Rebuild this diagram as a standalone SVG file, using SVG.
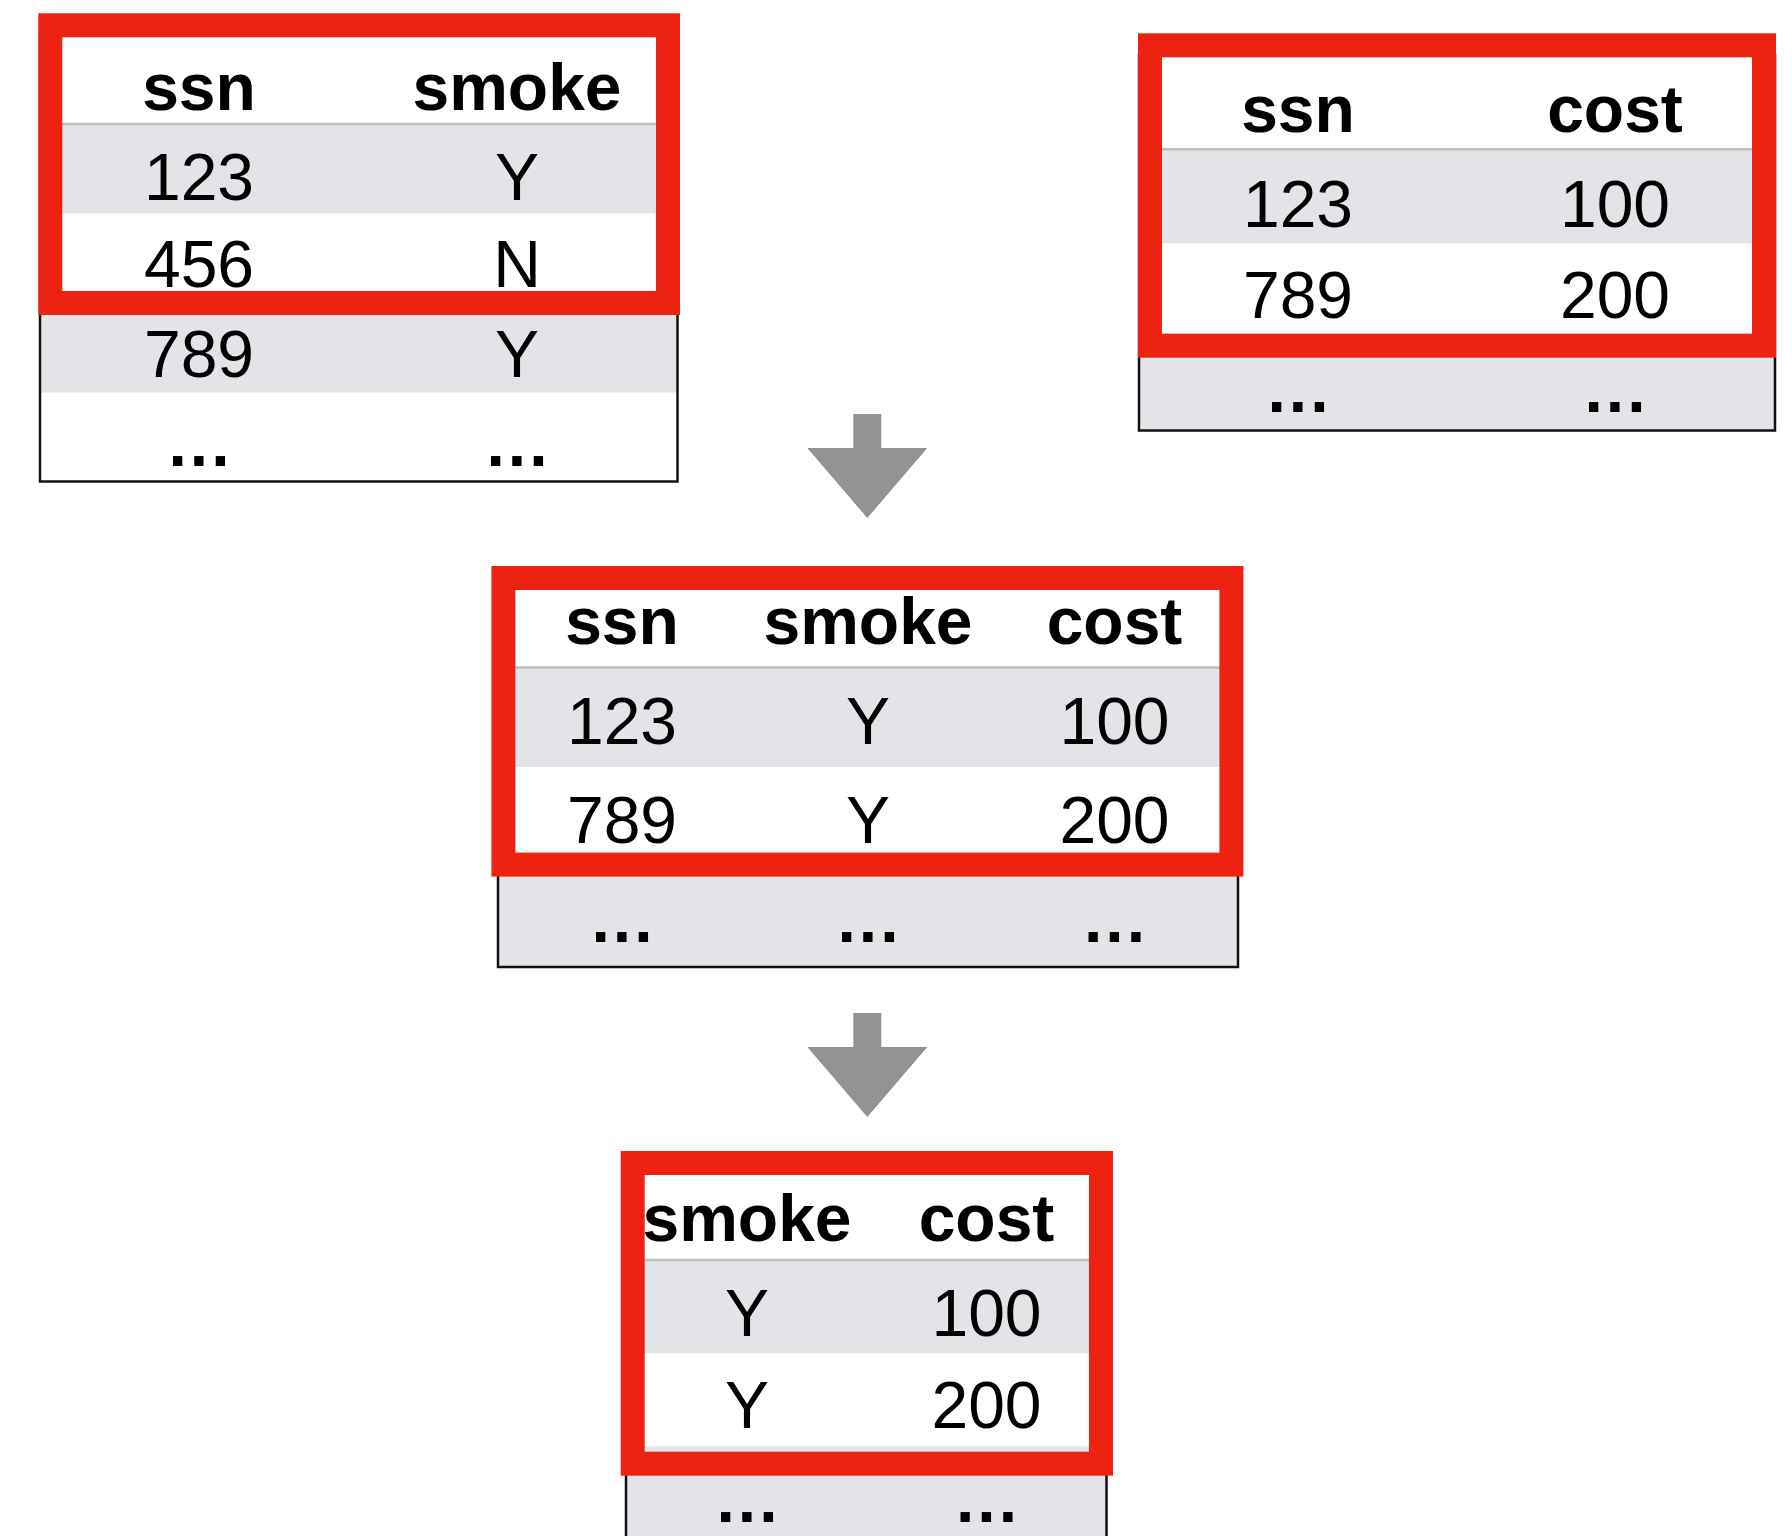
<svg xmlns="http://www.w3.org/2000/svg" width="1792" height="1536" viewBox="0 0 1792 1536">
  <style>
    .bg { fill: #ffffff; }
    .band { fill: #e3e4e8; }
    .edge { fill: none; stroke: #111111; stroke-width: 2.5; }
    .hline { stroke: #bdbdbd; stroke-width: 2.5; }
    .frame { fill: none; stroke: #ee2211; stroke-width: 24; }
    .hdr { font-family: "Liberation Sans", Arial, sans-serif; font-weight: bold; font-size: 66px; text-anchor: middle; fill: #000; }
    .cell { font-family: "Liberation Sans", Arial, sans-serif; font-size: 66px; text-anchor: middle; fill: #000; }
    .dots { font-family: "Liberation Sans", Arial, sans-serif; font-weight: bold; font-size: 66px; letter-spacing: 3px; text-anchor: middle; fill: #000; }
    .arrow { fill: #939393; }
  </style>
  <defs>
    <!-- block arrow pointing down, origin at the shaft's top centre -->
    <path id="down-arrow" d="M -14 0 H 14 V 34 H 60 L 0 104 L -60 34 H -14 Z"/>
  </defs>

  <rect class="bg" x="0" y="0" width="1792" height="1536"/>

  <!-- smoker table: ssn / smoke -->
  <g id="table-smoke">
    <rect class="bg" x="40" y="33" width="637.5" height="448.5"/>
    <rect class="band" x="40" y="124" width="637.5" height="89.5"/>
    <rect class="band" x="40" y="303" width="637.5" height="89.5"/>
    <line class="hline" x1="40" y1="124" x2="677.5" y2="124"/>
    <text class="hdr" x="199" y="110">ssn</text>
    <text class="hdr" x="517" y="110">smoke</text>
    <text class="cell" x="199" y="200">123</text>
    <text class="cell" x="517" y="200">Y</text>
    <text class="cell" x="199" y="287">456</text>
    <text class="cell" x="517" y="287">N</text>
    <text class="cell" x="199" y="377">789</text>
    <text class="cell" x="517" y="377">Y</text>
    <text class="dots" x="200.5" y="466">...</text>
    <text class="dots" x="518.5" y="466">...</text>
    <rect class="edge" x="40" y="33" width="637.5" height="448.5"/>
    <rect class="frame" x="50.3" y="25.3" width="617.7" height="277.7"/>
  </g>

  <!-- cost table: ssn / cost -->
  <g id="table-cost">
    <rect class="bg" x="1139" y="55" width="636" height="375.5"/>
    <rect class="band" x="1139" y="149.3" width="636" height="94"/>
    <rect class="band" x="1139" y="337.3" width="636" height="93.2"/>
    <line class="hline" x1="1139" y1="149.3" x2="1775" y2="149.3"/>
    <text class="hdr" x="1298" y="131.7">ssn</text>
    <text class="hdr" x="1615" y="131.7">cost</text>
    <text class="cell" x="1298" y="226.7">123</text>
    <text class="cell" x="1615" y="226.7">100</text>
    <text class="cell" x="1298" y="317.7">789</text>
    <text class="cell" x="1615" y="317.7">200</text>
    <text class="dots" x="1299.5" y="411.7">...</text>
    <text class="dots" x="1616.5" y="411.7">...</text>
    <rect class="edge" x="1139" y="55" width="636" height="375.5"/>
    <rect class="frame" x="1150" y="45.3" width="614" height="300.4"/>
  </g>

  <!-- joined table: ssn / smoke / cost -->
  <g id="table-join">
    <rect class="bg" x="498" y="578" width="740" height="389"/>
    <rect class="band" x="498" y="667.4" width="740" height="99.6"/>
    <rect class="band" x="498" y="866.8" width="740" height="100.2"/>
    <line class="hline" x1="498" y1="667.4" x2="1238" y2="667.4"/>
    <text class="hdr" x="622" y="644.4">ssn</text>
    <text class="hdr" x="868" y="644.4">smoke</text>
    <text class="hdr" x="1114.5" y="644.4">cost</text>
    <text class="cell" x="622" y="744">123</text>
    <text class="cell" x="868" y="744">Y</text>
    <text class="cell" x="1114.5" y="744">100</text>
    <text class="cell" x="622" y="842.6">789</text>
    <text class="cell" x="868" y="842.6">Y</text>
    <text class="cell" x="1114.5" y="842.6">200</text>
    <text class="dots" x="623.5" y="941.5">...</text>
    <text class="dots" x="869.5" y="941.5">...</text>
    <text class="dots" x="1116" y="941.5">...</text>
    <rect class="edge" x="498" y="578" width="740" height="389"/>
    <rect class="frame" x="503.4" y="578" width="728" height="286.6"/>
  </g>

  <!-- projected table: smoke / cost -->
  <g id="table-project">
    <rect class="bg" x="626" y="1163" width="480.5" height="400"/>
    <rect class="band" x="626" y="1260" width="480.5" height="93.2"/>
    <rect class="band" x="626" y="1446.4" width="480.5" height="120"/>
    <line class="hline" x1="626" y1="1260" x2="1106.5" y2="1260"/>
    <text class="hdr" x="747" y="1240.6">smoke</text>
    <text class="hdr" x="986.5" y="1240.6">cost</text>
    <text class="cell" x="747" y="1335.5">Y</text>
    <text class="cell" x="986.5" y="1335.5">100</text>
    <text class="cell" x="747" y="1428.3">Y</text>
    <text class="cell" x="986.5" y="1428.3">200</text>
    <text class="dots" x="748.5" y="1521.5">...</text>
    <text class="dots" x="988" y="1521.5">...</text>
    <rect class="edge" x="626" y="1163" width="480.5" height="400"/>
    <rect class="frame" x="632.7" y="1163" width="468.3" height="300.7"/>
  </g>

  <!-- flow arrows between steps -->
  <g id="connectors">
    <use href="#down-arrow" class="arrow" x="867.3" y="414"/>
    <use href="#down-arrow" class="arrow" x="867.3" y="1013"/>
  </g>
</svg>
